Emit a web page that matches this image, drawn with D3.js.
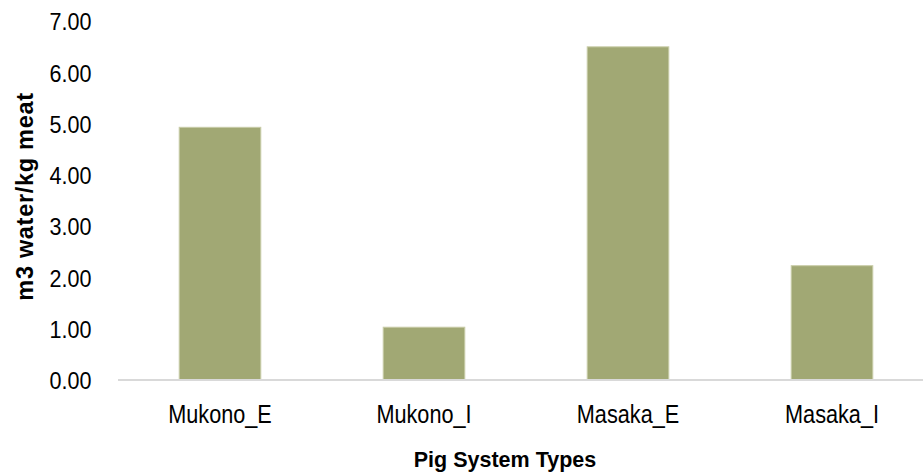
<!DOCTYPE html>
<html>
<head>
<meta charset="utf-8">
<script src="https://cdn.jsdelivr.net/npm/d3@7"></script>
<style>
  html, body { margin: 0; padding: 0; background: #fff; }
  svg { display: block; }
</style>
</head>
<body>
<svg id="chart" width="923" height="476"></svg>
<script>
// Water footprint per kg of pig meat, by production system
const categories = ["Mukono_E", "Mukono_I", "Masaka_E", "Masaka_I"];
const waterPerKg = [4.93, 1.03, 6.50, 2.23];
const yTicks = [0, 1, 2, 3, 4, 5, 6, 7];
const xTitle = "Pig System Types";
const yTitle = "m3 water/kg meat";

const svg = d3.select("#chart");
const plot = { left: 118, right: 934, top: 21.2, bottom: 380 };

const x = d3.scaleBand()
  .domain(categories)
  .range([plot.left, plot.right])
  .paddingInner(0.6)
  .paddingOuter(0.3);

const y = d3.scaleLinear()
  .domain([0, 7])
  .range([plot.bottom, plot.top]);

const font = "'Liberation Sans', Arial, sans-serif";

// bars
svg.append("g")
  .selectAll("rect")
  .data(categories)
  .join("rect")
  .attr("x", d => x(d))
  .attr("width", x.bandwidth())
  .attr("y", (d, i) => y(waterPerKg[i]))
  .attr("height", (d, i) => y(0) - y(waterPerKg[i]))
  .attr("fill", "#a1a874")
  .attr("stroke", "#c9cda8")
  .attr("stroke-width", 1);

// y axis: labels only, in a slightly condensed face
const tickSquash = 0.88;
const yAxis = svg.append("g")
  .attr("transform", `translate(${plot.left},0)`)
  .call(d3.axisLeft(y).tickValues(yTicks).tickFormat(d3.format(".2f")).tickSize(0));
yAxis.select(".domain").remove();
yAxis.selectAll("text")
  .attr("font-family", font)
  .attr("font-size", 24.5)
  .attr("fill", "#000")
  .attr("x", -26.5 / tickSquash)
  .attr("dy", "0.35em")
  .attr("transform", `scale(${tickSquash},1)`);

// x axis: baseline and category labels
const catSquash = 0.85;
const xAxis = svg.append("g")
  .attr("transform", `translate(0,${plot.bottom})`)
  .call(d3.axisBottom(x).tickSize(0));
xAxis.select(".domain")
  .attr("d", `M${plot.left},0H923`)
  .attr("stroke", "#d9d9d9")
  .attr("stroke-width", 2);
xAxis.selectAll("text")
  .attr("font-family", font)
  .attr("font-size", 25.5)
  .attr("fill", "#000")
  .attr("y", 43.3)
  .attr("dy", 0)
  .attr("transform", `scale(${catSquash},1)`);

// axis titles
svg.append("text")
  .attr("x", 505)
  .attr("y", 466.7)
  .attr("text-anchor", "middle")
  .attr("font-family", font)
  .attr("font-weight", "bold")
  .attr("font-size", 21.5)
  .attr("fill", "#000")
  .text(xTitle);

svg.append("text")
  .attr("transform", "translate(33,196.5) rotate(-90)")
  .attr("text-anchor", "middle")
  .attr("font-family", font)
  .attr("font-weight", "bold")
  .attr("font-size", 23.5)
  .attr("letter-spacing", 0.7)
  .attr("fill", "#000")
  .text(yTitle);
</script>
</body>
</html>
